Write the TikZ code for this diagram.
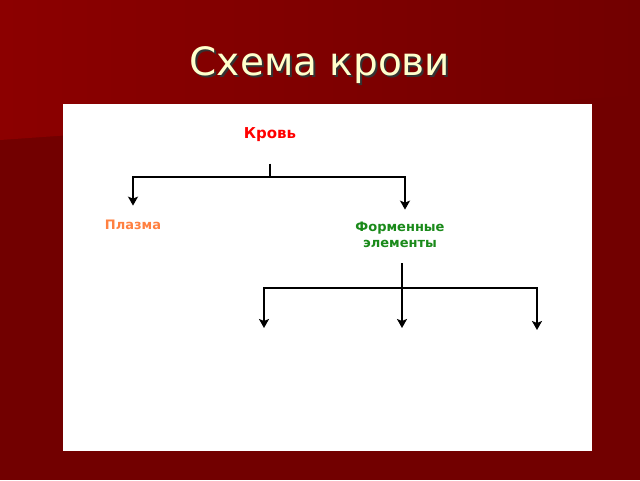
\documentclass[tikz,border=0pt]{standalone}
\usepackage{fontspec}
\setmainfont{DejaVu Sans}
\usetikzlibrary{positioning,arrows.meta}
\definecolor{slidebg}{HTML}{720000}
\definecolor{slidetop}{HTML}{8C0000}
\definecolor{titlecol}{HTML}{FFFFCC}
\definecolor{bloodred}{HTML}{FF0000}
\definecolor{plasmaor}{HTML}{FF8040}
\definecolor{cellgreen}{HTML}{1A8A1A}
\tikzset{
	label/.style={font=\bfseries\fontsize{13}{16}\selectfont,align=center},
	link/.style={line width=2.2pt},
	arr/.style={link,-{Stealth[length=9pt,width=10pt,inset=2pt]}}
}
\begin{document}
\begin{tikzpicture}[x=1pt,y=1pt]
			\useasboundingbox (0,0) rectangle (640,480);
			\fill[slidebg] (0,0) rectangle (640,480);
			\shade[left color=slidetop,right color=slidebg] (0,480)--(640,480)--(640,385)--(0,340)--cycle;
			\fill[white] (63,29) rectangle (592,376);
			% title with shadow
			\node[text=black!80,font=\fontsize{39}{46}\selectfont] at (322,413) {Схема крови};
			\node[text=titlecol,font=\fontsize{39}{46}\selectfont] (title) at (320,415) {Схема крови};
			% nodes
			\node[label,text=bloodred,font=\bfseries\fontsize{15}{18}\selectfont] (blood) at (270,345) {Кровь};
			\node[label,text=plasmaor] (plasma) at (133,255) {Плазма};
			\node[label,text=cellgreen,align=center] (cells) at (400,245) {Форменные\\элементы};
			\coordinate (j1) at (270,303);
			\coordinate (j2) at (402,192);
			\coordinate (c1) at (264,152);
			\coordinate (c2) at (402,152);
			\coordinate (c3) at (537,150);
			% connectors
			\draw[link] ([yshift=-18pt]blood.south) -- (j1);
			\draw[arr,shorten >=11pt] (j1) -| (plasma.north);
			\draw[arr,shorten >=9pt] (j1) -| ([xshift=5pt]cells.north);
			\draw[arr] ([yshift=-12pt]cells.south -| j2) -- (c2);
			\draw[arr] (j2) -| (c1);
			\draw[arr] (j2) -| (c3);
		\end{tikzpicture}
\end{document}
